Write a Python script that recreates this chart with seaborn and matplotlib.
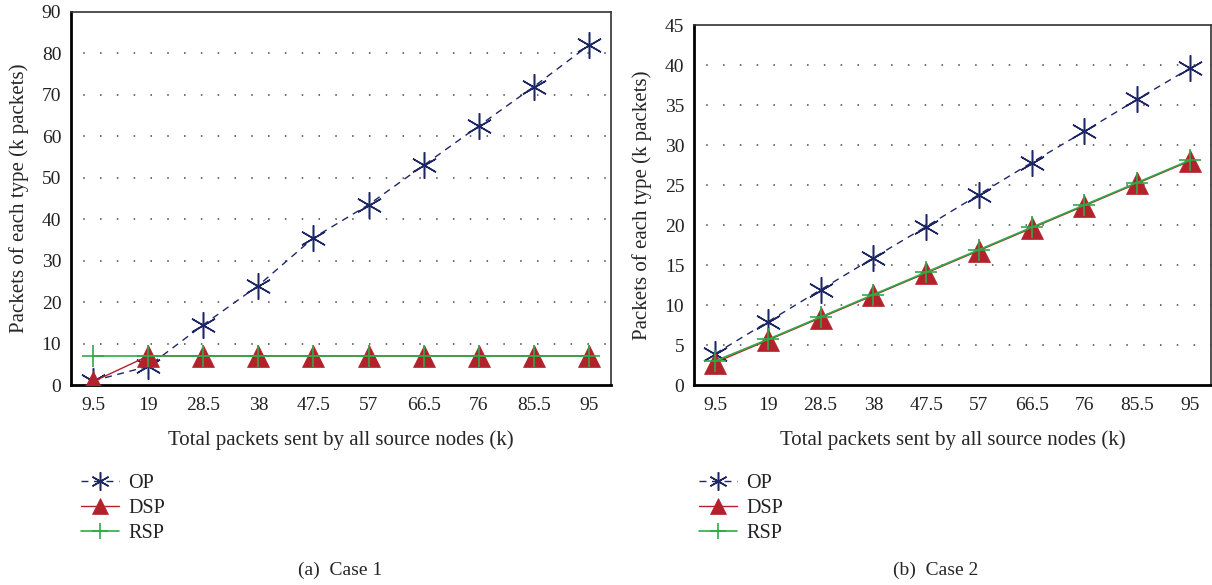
import matplotlib
matplotlib.use("Agg")
import matplotlib.pyplot as plt
import seaborn as sns
import pandas as pd

x_vals = [9.5, 19, 28.5, 38, 47.5, 57, 66.5, 76, 85.5, 95]
x_labels = ["9.5", "19", "28.5", "38", "47.5", "57", "66.5", "76", "85.5", "95"]

case1_op = [1.0, 4.5, 14.5, 24.0, 35.5, 43.5, 53.0, 62.5, 72.0, 82.0]
case1_dsp = [0.8, 7.0, 7.0, 7.0, 7.0, 7.0, 7.0, 7.0, 7.0, 7.0]
case1_rsp = [7.0, 7.0, 7.0, 7.0, 7.0, 7.0, 7.0, 7.0, 7.0, 7.0]

case2_op = [3.9, 7.9, 11.9, 15.9, 19.8, 23.8, 27.8, 31.7, 35.7, 39.6]
case2_dsp = [2.8, 5.6, 8.4, 11.2, 14.0, 16.8, 19.6, 22.4, 25.2, 28.0]
case2_rsp = [3.0, 5.7, 8.5, 11.3, 14.1, 16.9, 19.7, 22.5, 25.3, 28.1]

series_names = ["OP", "DSP", "RSP"]

sns.set_style("white")
plt.rcParams["font.family"] = ["Liberation Serif", "DejaVu Serif"]
plt.rcParams["font.size"] = 14

C_OP = "#1e2766"
C_DSP = "#b3212a"
C_RSP = "#2eaa48"

W, H = 1212, 585
fig = plt.figure(figsize=(W / 100, H / 100), dpi=100)


def add_axes(l, r, t, b):
    return fig.add_axes([l / W, 1 - b / H, (r - l) / W, (b - t) / H])


ax1 = add_axes(71, 611, 12, 385)
ax2 = add_axes(694, 1211, 25, 385)

styles = {
    "OP": dict(color=C_OP, marker=(6, 2, 0), markersize=19, linestyle=(0, (5, 4)),
               linewidth=1.0, markeredgewidth=1.1, markeredgecolor=C_OP, zorder=3),
    "DSP": dict(color=C_DSP, marker="^", markersize=15.5, linestyle="-",
                linewidth=1.0, markeredgewidth=0.5, markeredgecolor=C_DSP, zorder=4),
    "RSP": dict(color=C_RSP, marker="+", markersize=16, linestyle="-",
                linewidth=1.2, markeredgewidth=1.2, markeredgecolor=C_RSP, zorder=5),
}


def draw(ax, op, dsp, rsp, ymax, ystep, leg_x):
    df = pd.DataFrame({"x": x_vals * 3,
                       "y": op + dsp + rsp,
                       "series": sum([[s] * len(x_vals) for s in series_names], [])})
    for name in series_names:
        sub = df[df["series"] == name]
        st = dict(styles[name])
        ls = st.pop("linestyle")
        sns.lineplot(data=sub, x="x", y="y", ax=ax, label=name, linestyle=ls, **st)
    step = x_vals[1] - x_vals[0]
    ax.set_xlim(x_vals[0] - 0.4 * step, x_vals[-1] + 0.4 * step)
    ax.set_ylim(0, ymax)
    ax.set_xticks(x_vals)
    ax.set_xticklabels(x_labels)
    yt = [i * ystep for i in range(int(ymax / ystep) + 1)]
    ax.set_yticks(yt)
    ax.set_yticklabels([str(int(v)) for v in yt])
    ax.tick_params(axis="both", length=0, labelsize=14, colors="#222222", pad=7)
    ax.tick_params(axis="x", pad=9)
    for v in yt[1:-1]:
        ax.axhline(v, color="#444444", linestyle=(3, (1, 10)), linewidth=1.1, zorder=1)
    for s in ["left", "bottom"]:
        ax.spines[s].set_linewidth(2.0)
        ax.spines[s].set_color("black")
    for s in ["top", "right"]:
        ax.spines[s].set_linewidth(1.2)
        ax.spines[s].set_color("#333333")
    ax.set_xlabel("Total packets sent by all source nodes (k)", fontsize=15, labelpad=11)
    ax.set_ylabel("Packets of each type (k packets)", fontsize=15, labelpad=9)
    leg = ax.legend(loc="upper left", bbox_to_anchor=(leg_x / W, 1 - 474 / H),
                    bbox_transform=fig.transFigure, frameon=False, fontsize=14.5,
                    handlelength=1.9, handletextpad=0.45, labelspacing=0.28,
                    borderaxespad=0, borderpad=0, markerscale=0.7)
    for t in leg.get_texts():
        t.set_color("#222222")


draw(ax1, case1_op, case1_dsp, case1_rsp, 90, 10, 81)
draw(ax2, case2_op, case2_dsp, case2_rsp, 45, 5, 699)

fig.text(340 / W, 1 - 570 / H, "(a)  Case 1", ha="center", va="center", fontsize=14)
fig.text(936 / W, 1 - 570 / H, "(b)  Case 2", ha="center", va="center", fontsize=14)

fig.savefig("out.png", dpi=100)
